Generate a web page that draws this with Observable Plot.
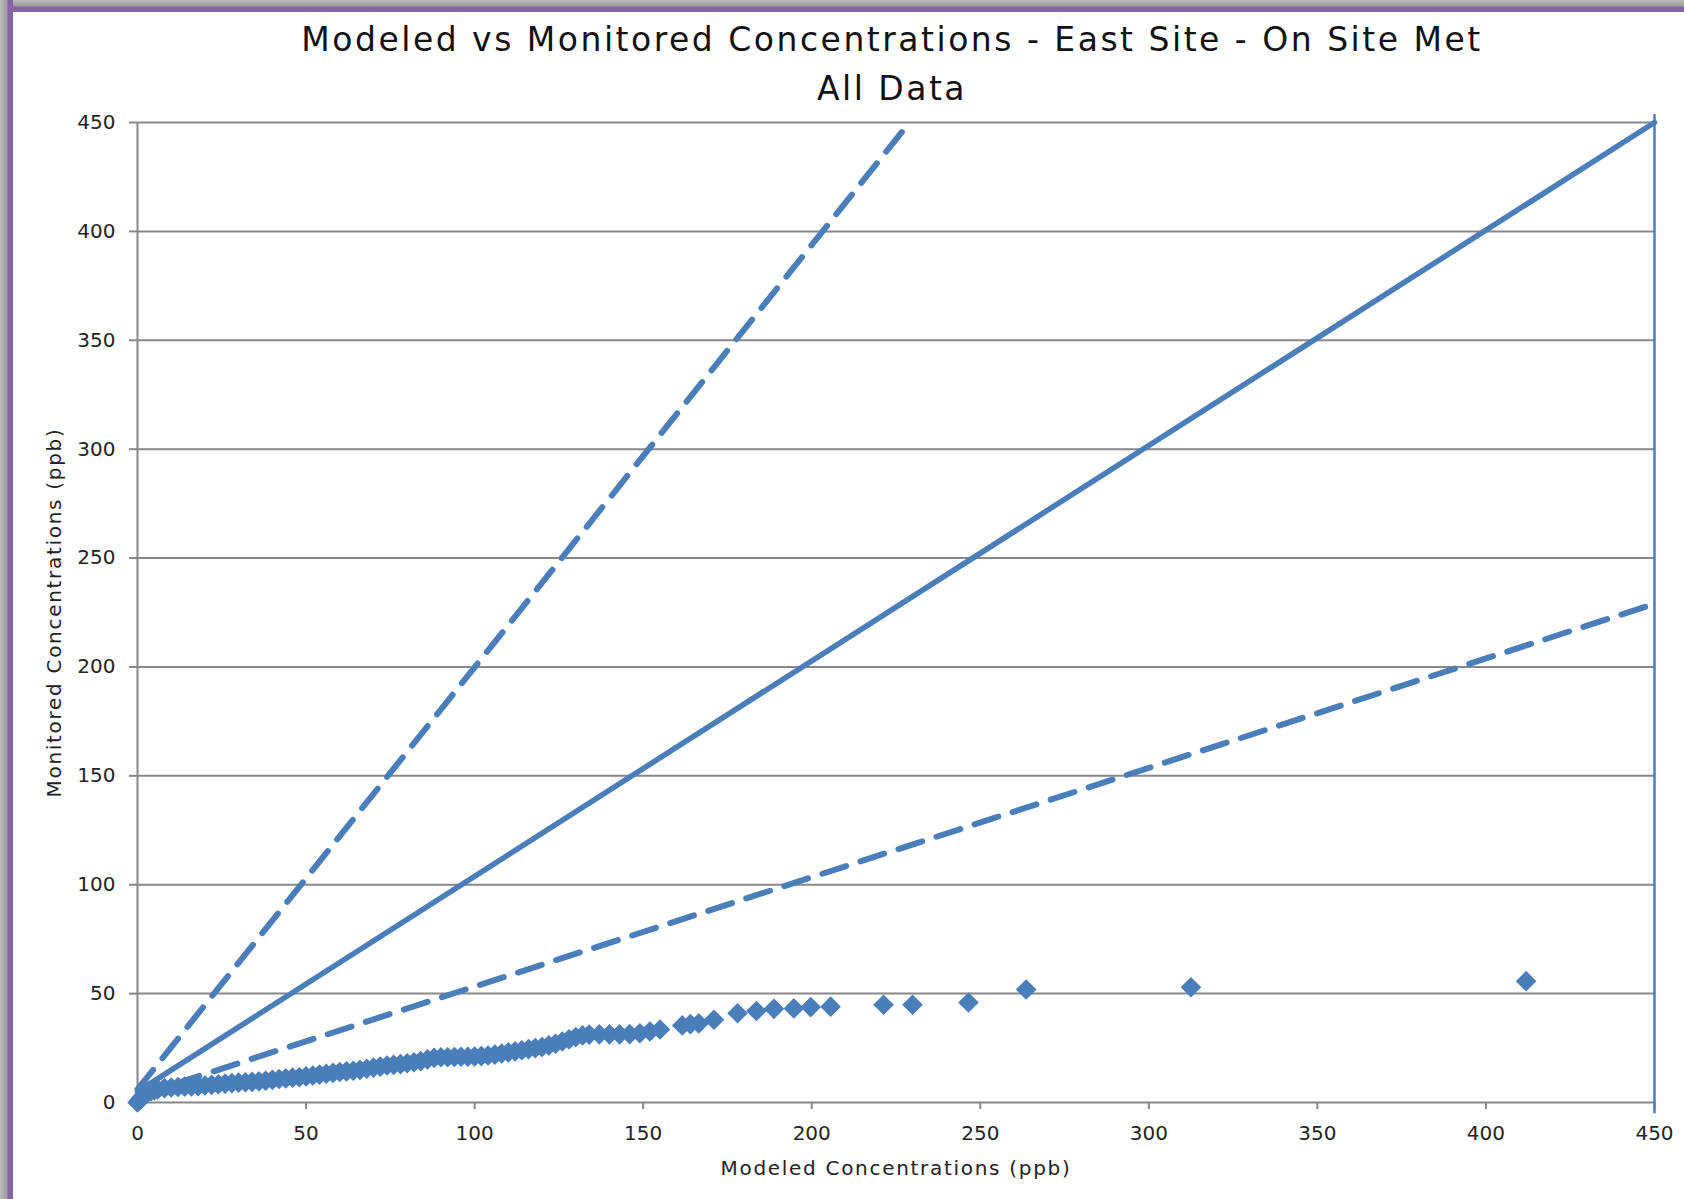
<!DOCTYPE html>
<html><head><meta charset="utf-8">
<script src="https://cdn.jsdelivr.net/npm/d3@7"></script>
<script src="https://cdn.jsdelivr.net/npm/@observablehq/plot@0.6"></script>
<style>
html,body{margin:0;padding:0;background:#fff;}
#page{position:relative;width:1684px;height:1199px;overflow:hidden;background:#fff;font-family:"DejaVu Sans",sans-serif;}
#head{position:relative;height:100px;}
.t{position:absolute;left:0;width:1784px;text-align:center;color:#111;white-space:nowrap;font-size:33px;letter-spacing:2.5px;line-height:36px;}
#t1{top:22px;}
#t2{top:71px;}
#frameTop{position:absolute;left:0;top:0;width:1684px;height:12px;background:linear-gradient(to bottom,#bdbdbd 0px,#9c9c9c 6px,#8466a8 7px,#8466a8 12px);z-index:5;}
#frameLeft{position:absolute;left:0;top:0;width:13px;height:1199px;background:linear-gradient(to right,#bdbdbd 0px,#9c9c9c 7px,#8466a8 8px,#8466a8 13px);z-index:5;}
svg{display:block;}
</style>
</head><body>
<div id="page">
  <div id="frameTop"></div><div id="frameLeft"></div>
  <div id="head">
    <div class="t" id="t1">Modeled vs Monitored Concentrations - East Site - On Site Met</div>
    <div class="t" id="t2">All Data</div>
  </div>
  <div id="chart"></div>
</div>
<script>
// Sorted modeled vs monitored concentrations (ppb)
const modeled = [0, 0.5, 1, 2, 3, 4, 5, 6,
  8, 10, 12, 14, 16, 18, 20, 22, 24, 26, 28, 30, 32, 34, 36, 38, 40, 42, 44, 46, 48, 50,
  52, 54, 56, 58, 60, 62, 64, 66, 68, 70, 72, 74, 76, 78, 80, 82, 84, 86, 88, 90,
  92, 94, 96, 98, 100, 102, 104, 106, 108, 110, 112, 114, 116, 118, 120, 122, 124, 126, 128, 130,
  132, 134, 137, 140, 143, 146, 149, 152, 155,
  161.6, 164, 166.5, 171, 178, 183.6, 188.8, 194.7, 199.7, 205.6,
  221.3, 229.9, 246.5, 263.6, 312.5, 411.9];
const monitored = [0, 0.8, 2, 3.5, 4.5, 5.2, 5.6, 6,
  6.6, 6.9, 7.1, 7.3, 7.4, 7.5, 7.8, 8.1, 8.4, 8.7, 8.9, 9.1, 9.3, 9.5, 9.7, 10, 10.4, 10.8, 11.1, 11.4, 11.6, 12,
  12.4, 12.8, 13.2, 13.6, 14, 14.3, 14.6, 15, 15.5, 16, 16.5, 17, 17.3, 17.6, 18, 18.5, 19, 19.8, 20.5, 20.8,
  20.8, 20.9, 21, 21, 21.1, 21.3, 21.6, 22, 22.5, 23, 23.5, 24, 24.5, 25, 25.5, 26.2, 27, 28, 29, 30,
  30.8, 31.2, 31.3, 31.3, 31.3, 31.4, 31.8, 32.6, 33.5,
  35.4, 36, 36.3, 38, 41, 42, 43, 43.2, 43.8, 44,
  44.9, 44.9, 45.9, 51.9, 52.9, 55.7];

// Reference lines (1:1, factor-of-two bounds) and the right-edge series line
const oneToOneX = [0, 450];   const oneToOneY = [5, 450];
const upperX = [0, 229];      const upperY = [6, 450];
const lowerX = [0, 450];      const lowerY = [3, 229];
const edgeX = [450, 450];     const edgeY = [-4.5, 453.5];

const xTicks = [0, 50, 100, 150, 200, 250, 300, 350, 400, 450];
const yTicks = [0, 50, 100, 150, 200, 250, 300, 350, 400, 450];
const xTitle = "Modeled Concentrations (ppb)";
const yTitle = "Monitored Concentrations (ppb)";

const rows = (xs, ys) => xs.map((x, i) => ({x, y: ys[i]}));
const points = rows(modeled, monitored);

const blue = "#4a7ebb";
const grid = "#878787";

const chart = Plot.plot({
  width: 1684,
  height: 1099,
  marginLeft: 137,
  marginRight: 30,
  marginTop: 22,
  marginBottom: 97,
  style: {fontFamily: "'DejaVu Sans', sans-serif", background: "#fff"},
  x: {domain: [0, 450]},
  y: {domain: [0, 450]},
  marks: [
    Plot.ruleY(yTicks, {stroke: grid, strokeWidth: 2}),
    Plot.ruleX([0], {stroke: grid, strokeWidth: 2}),
    Plot.axisY({ticks: yTicks, tickSize: 8, tickPadding: 14, fontSize: 20, stroke: grid, strokeWidth: 2, fill: "#222", label: null}),
    Plot.axisX({ticks: xTicks, tickSize: 7, tickPadding: 16, fontSize: 20, stroke: grid, strokeWidth: 2, fill: "#222", label: null}),
    Plot.text([xTitle], {text: d => d, frameAnchor: "bottom", dy: 66, textAnchor: "middle", lineAnchor: "middle", fontSize: 20, fill: "#222"}),
    Plot.text([yTitle], {text: d => d, frameAnchor: "left", dx: -83, rotate: -90, textAnchor: "middle", lineAnchor: "middle", fontSize: 20, fill: "#222"}),
    Plot.line(rows(oneToOneX, oneToOneY), {x: "x", y: "y", stroke: blue, strokeWidth: 5.5}),
    Plot.line(rows(upperX, upperY), {x: "x", y: "y", stroke: blue, strokeWidth: 6, strokeDasharray: "25,15"}),
    Plot.line(rows(lowerX, lowerY), {x: "x", y: "y", stroke: blue, strokeWidth: 6, strokeDasharray: "25,15"}),
    Plot.line(rows(edgeX, edgeY), {x: "x", y: "y", stroke: blue, strokeWidth: 2.5}),
    Plot.dot(points, {x: "x", y: "y", symbol: "diamond2", r: 9.3, fill: blue, stroke: "none"})
  ]
});
d3.select(chart).selectAll("text")
  .filter(function() { return this.textContent === xTitle || this.textContent === yTitle; })
  .attr("letter-spacing", "1.7px");
document.getElementById("chart").appendChild(chart);
</script>
</body></html>
